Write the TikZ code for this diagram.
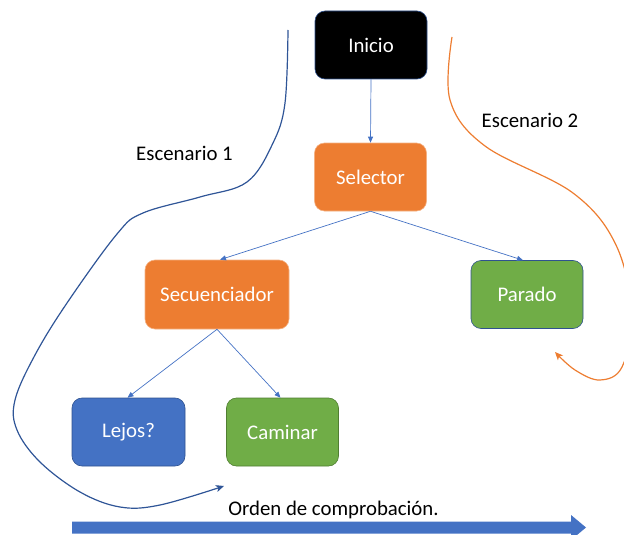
\documentclass[tikz,border=0pt]{standalone}
\usepackage{fontspec}
\setmainfont{Carlito}
\usetikzlibrary{arrows.meta}
\definecolor{accblue}{HTML}{4472C4}
\definecolor{accorange}{HTML}{ED7D31}
\definecolor{accgreen}{HTML}{70AD47}
\definecolor{darkblue}{HTML}{2F5597}
\definecolor{edgeblue}{HTML}{2F528F}
\definecolor{edgegreen}{HTML}{507E32}
\definecolor{edgeorange}{HTML}{F4B183}
\begin{document}
\begin{tikzpicture}[x=1pt,y=-1pt,
  box/.style={rounded corners=10pt, minimum width=112pt, minimum height=68pt,
    inner sep=0pt, text=white, font=\fontsize{20.8}{24}\selectfont, line width=0.6pt},
  link/.style={accblue, line width=0.7pt, -{Triangle[length=6pt,width=5pt]}},
  lbl/.style={font=\fontsize{20.8}{24}\selectfont, inner sep=0pt},
  scen/.style={line width=1.2pt, -{Stealth[length=8pt,width=7pt,inset=2pt]}}]
\useasboundingbox (0,0) rectangle (624,535);
\clip (0,0) rectangle (624,535);

% tree nodes
\node[box, fill=black, draw=edgeblue] (ini) at (371,45) {Inicio};
\node[box, fill=accorange, draw=edgeorange] (sel) at (370.5,177) {Selector};
\node[box, fill=accorange, draw=edgeorange, minimum width=144pt, minimum height=69pt] (sec) at (217,294.5) {Secuenciador};
\node[box, fill=accgreen, draw=edgeblue] (par) at (527,294.5) {Parado};
\node[box, fill=accblue, draw=edgeblue, minimum width=113pt] (lej) at (128.5,432) {Lejos?};
\node[box, fill=accgreen, draw=edgegreen] (cam) at (282.5,432) {Caminar};

% tree connectors
\draw[link] (ini.south) -- (sel.north);
\draw[link] (sel.south) -- ([xshift=3pt]sec.north);
\draw[link] (sel.south) -- ([xshift=-4pt]par.north);
\draw[link] (sec.south) -- ([xshift=-1pt]lej.north);
\draw[link] (sec.south) -- ([xshift=-2pt]cam.north);

% scenario curves
\coordinate (e1s) at (288,30);
\coordinate (e1e) at (224,486);
\draw[scen, darkblue]
  plot[smooth, tension=0.6] coordinates {(e1s) (285,103) (273,143) (247,182) (200,197)
    (143,213) (117,234) (67,303) (35,355) (15,400) (17,430) (40,462) (80,492)
    (120,507) (160,505) (e1e)};
\coordinate (e2s) at (452,37);
\coordinate (e2e) at (555,352);
\draw[scen, accorange]
  plot[smooth, tension=0.6] coordinates {(e2s) (450,100) (485,146) (573,193)
    (616,245) (632,315) (622,367) (600,380) (575,370) (e2e)};

\node[lbl] (esc1) at (184.5,153) {Escenario 1};
\node[lbl] (esc2) at (530,120) {Escenario 2};
\node[lbl] (orden) at (333.5,510) {Orden de comprobación.};

% order arrow
\fill[accblue] (72,521.5) -- (571,521.5) -- (571,515) -- (586,527.5) -- (571,540)
  -- (571,533.5) -- (72,533.5) -- cycle;
\end{tikzpicture}
\end{document}
